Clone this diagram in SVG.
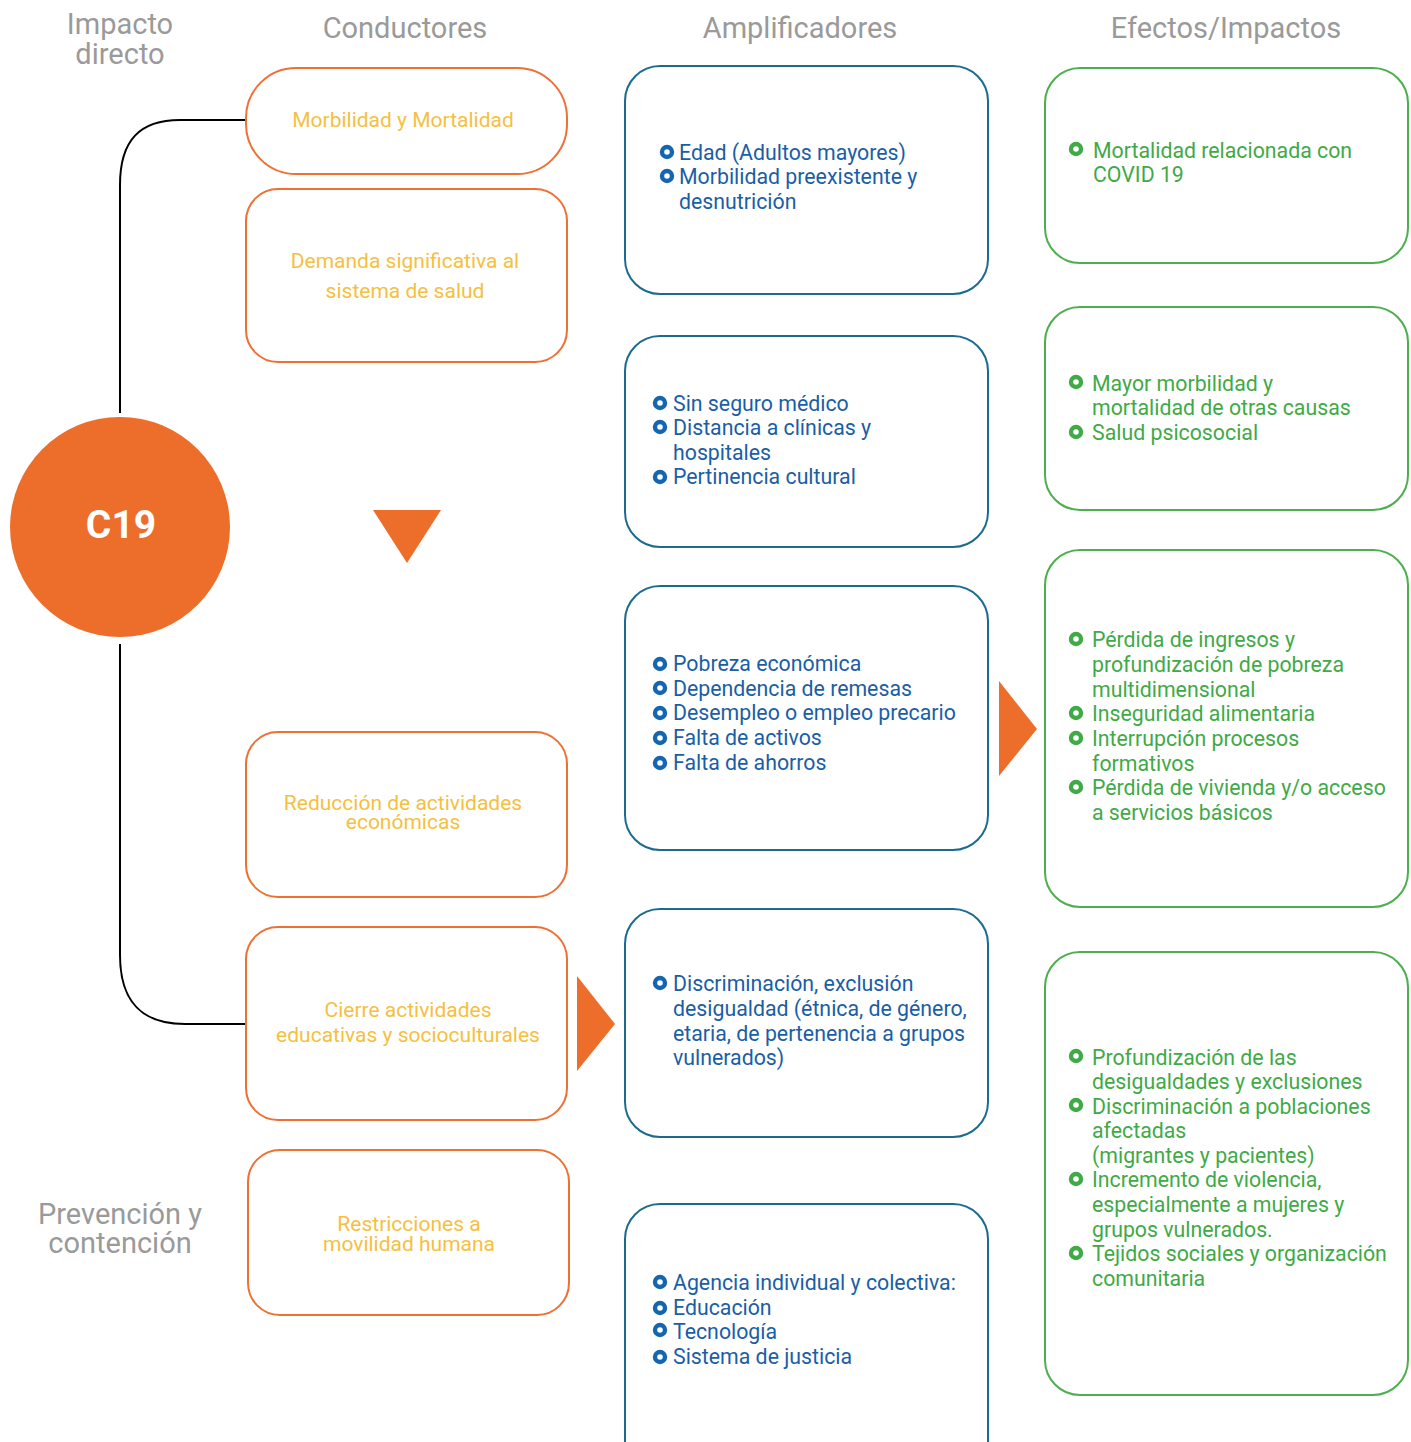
<svg xmlns="http://www.w3.org/2000/svg" width="1411" height="1442" viewBox="0 0 1411 1442">
<defs>
<style>
text{font-family:Roboto,"Liberation Sans",sans-serif;}
.hdr{font-size:29px;fill:#9a9a9a;text-anchor:middle;}
.obox{fill:#fff;stroke:#ee7033;stroke-width:2;}
.bbox{fill:#fff;stroke:#1b6b8f;stroke-width:2;}
.gbox{fill:#fff;stroke:#4cae4c;stroke-width:2;}
.otx{font-size:21px;fill:#f6bf40;text-anchor:middle;}
.btx{font-size:21.3px;fill:#1a5ea6;}
.gtx{font-size:21.3px;fill:#3faa46;}
.bb{fill:#fff;stroke:#1466b0;stroke-width:4.4;}
.gb{fill:#fff;stroke:#3faa46;stroke-width:4.4;}
.tri{fill:#ed6e2a;}
.con{fill:none;stroke:#000;stroke-width:2;}
</style>
</defs>
<g id="headers">
<text class="hdr" x="120" y="34">Impacto</text>
<text class="hdr" x="120" y="64">directo</text>
<text class="hdr" x="405" y="38">Conductores</text>
<text class="hdr" x="800" y="38">Amplificadores</text>
<text class="hdr" x="1226" y="38">Efectos/Impactos</text>
<text class="hdr" x="120" y="1224">Prevención y</text>
<text class="hdr" x="120" y="1253">contención</text>
</g>
<g id="connectors">
<path class="con" d="M246,120 H180 C140,120 120,140 120,185 V413"/>
<path class="con" d="M120,644 V955 C120,1000 140,1024 185,1024 H246"/>
<polygon class="tri" points="373,510 441,510 407,563"/>
<polygon class="tri" points="577,976 615,1024 577,1071"/>
<polygon class="tri" points="999,681 1037,729 999,776"/>
</g>
<g id="c19">
<circle cx="120" cy="527" r="110" fill="#ed6e2a"/>
<text x="121" y="538" font-size="39" font-weight="bold" fill="#fff" text-anchor="middle">C19</text>
</g>
<g id="cond1"><rect class="obox" x="246" y="68" width="321" height="106" rx="50"/><text class="otx" x="403" y="127">Morbilidad y Mortalidad</text></g>
<g id="cond2"><rect class="obox" x="246" y="189" width="321" height="173" rx="32"/><text class="otx" x="405" y="268">Demanda significativa al</text><text class="otx" x="405" y="298">sistema de salud</text></g>
<g id="cond3"><rect class="obox" x="246" y="732" width="321" height="165" rx="32"/><text class="otx" x="403" y="810">Reducción de actividades</text><text class="otx" x="403" y="829">económicas</text></g>
<g id="cond4"><rect class="obox" x="246" y="927" width="321" height="193" rx="32"/><text class="otx" x="408" y="1017">Cierre actividades</text><text class="otx" x="408" y="1042">educativas y socioculturales</text></g>
<g id="cond5"><rect class="obox" x="248" y="1150" width="321" height="165" rx="32"/><text class="otx" x="409" y="1231">Restricciones a</text><text class="otx" x="409" y="1251">movilidad humana</text></g>
<g id="amp1"><rect class="bbox" x="625" y="66" width="363" height="228" rx="35"/>
<circle class="bb" cx="667" cy="152" r="5"/><circle class="bb" cx="667" cy="176" r="5"/>
<text class="btx" x="679" y="160">Edad (Adultos mayores)</text><text class="btx" x="679" y="184">Morbilidad preexistente y</text><text class="btx" x="679" y="209">desnutrición</text></g>
<g id="amp2"><rect class="bbox" x="625" y="336" width="363" height="211" rx="35"/>
<circle class="bb" cx="660" cy="403" r="5"/><circle class="bb" cx="660" cy="427" r="5"/><circle class="bb" cx="660" cy="477" r="5"/>
<text class="btx" x="673" y="411">Sin seguro médico</text><text class="btx" x="673" y="435">Distancia a clínicas y</text><text class="btx" x="673" y="460">hospitales</text><text class="btx" x="673" y="484">Pertinencia cultural</text></g>
<g id="amp3"><rect class="bbox" x="625" y="586" width="363" height="264" rx="35"/>
<circle class="bb" cx="660" cy="664" r="5"/><circle class="bb" cx="660" cy="688" r="5"/><circle class="bb" cx="660" cy="713" r="5"/><circle class="bb" cx="660" cy="738" r="5"/><circle class="bb" cx="660" cy="763" r="5"/>
<text class="btx" x="673" y="671">Pobreza económica</text><text class="btx" x="673" y="696">Dependencia de remesas</text><text class="btx" x="673" y="720">Desempleo o empleo precario</text><text class="btx" x="673" y="745">Falta de activos</text><text class="btx" x="673" y="770">Falta de ahorros</text></g>
<g id="amp4"><rect class="bbox" x="625" y="909" width="363" height="228" rx="35"/>
<circle class="bb" cx="660" cy="983" r="5"/>
<text class="btx" x="673" y="991">Discriminación, exclusión</text><text class="btx" x="673" y="1016">desigualdad (étnica, de género,</text><text class="btx" x="673" y="1041">etaria, de pertenencia a grupos</text><text class="btx" x="673" y="1065">vulnerados)</text></g>
<g id="amp5"><rect class="bbox" x="625" y="1204" width="363" height="280" rx="35"/>
<circle class="bb" cx="660" cy="1282" r="5"/><circle class="bb" cx="660" cy="1308" r="5"/><circle class="bb" cx="660" cy="1330" r="5"/><circle class="bb" cx="660" cy="1357" r="5"/>
<text class="btx" x="673" y="1290">Agencia individual y colectiva:</text><text class="btx" x="673" y="1315">Educación</text><text class="btx" x="673" y="1339">Tecnología</text><text class="btx" x="673" y="1364">Sistema de justicia</text></g>
<g id="eff1"><rect class="gbox" x="1045" y="68" width="363" height="195" rx="35"/>
<circle class="gb" cx="1076" cy="149" r="5"/>
<text class="gtx" x="1093" y="158">Mortalidad relacionada con</text><text class="gtx" x="1093" y="182">COVID 19</text></g>
<g id="eff2"><rect class="gbox" x="1045" y="307" width="363" height="203" rx="35"/>
<circle class="gb" cx="1076" cy="382" r="5"/><circle class="gb" cx="1076" cy="432" r="5"/>
<text class="gtx" x="1092" y="391">Mayor morbilidad y</text><text class="gtx" x="1092" y="415">mortalidad de otras causas</text><text class="gtx" x="1092" y="440">Salud psicosocial</text></g>
<g id="eff3"><rect class="gbox" x="1045" y="550" width="363" height="357" rx="35"/>
<circle class="gb" cx="1076" cy="639" r="5"/><circle class="gb" cx="1076" cy="713" r="5"/><circle class="gb" cx="1076" cy="738" r="5"/><circle class="gb" cx="1076" cy="787" r="5"/>
<text class="gtx" x="1092" y="647">Pérdida de ingresos y</text><text class="gtx" x="1092" y="672">profundización de pobreza</text><text class="gtx" x="1092" y="697">multidimensional</text><text class="gtx" x="1092" y="721">Inseguridad alimentaria</text><text class="gtx" x="1092" y="746">Interrupción procesos</text><text class="gtx" x="1092" y="771">formativos</text><text class="gtx" x="1092" y="795">Pérdida de vivienda y/o acceso</text><text class="gtx" x="1092" y="820">a servicios básicos</text></g>
<g id="eff4"><rect class="gbox" x="1045" y="952" width="363" height="443" rx="35"/>
<circle class="gb" cx="1076" cy="1056" r="5"/><circle class="gb" cx="1076" cy="1105" r="5"/><circle class="gb" cx="1076" cy="1179" r="5"/><circle class="gb" cx="1076" cy="1253" r="5"/>
<text class="gtx" x="1092" y="1065">Profundización de las</text><text class="gtx" x="1092" y="1089">desigualdades y exclusiones</text><text class="gtx" x="1092" y="1114">Discriminación a poblaciones</text><text class="gtx" x="1092" y="1138">afectadas</text><text class="gtx" x="1092" y="1163">(migrantes y pacientes)</text><text class="gtx" x="1092" y="1187">Incremento de violencia,</text><text class="gtx" x="1092" y="1212">especialmente a mujeres y</text><text class="gtx" x="1092" y="1237">grupos vulnerados.</text><text class="gtx" x="1092" y="1261">Tejidos sociales y organización</text><text class="gtx" x="1092" y="1286">comunitaria</text></g>
</svg>
